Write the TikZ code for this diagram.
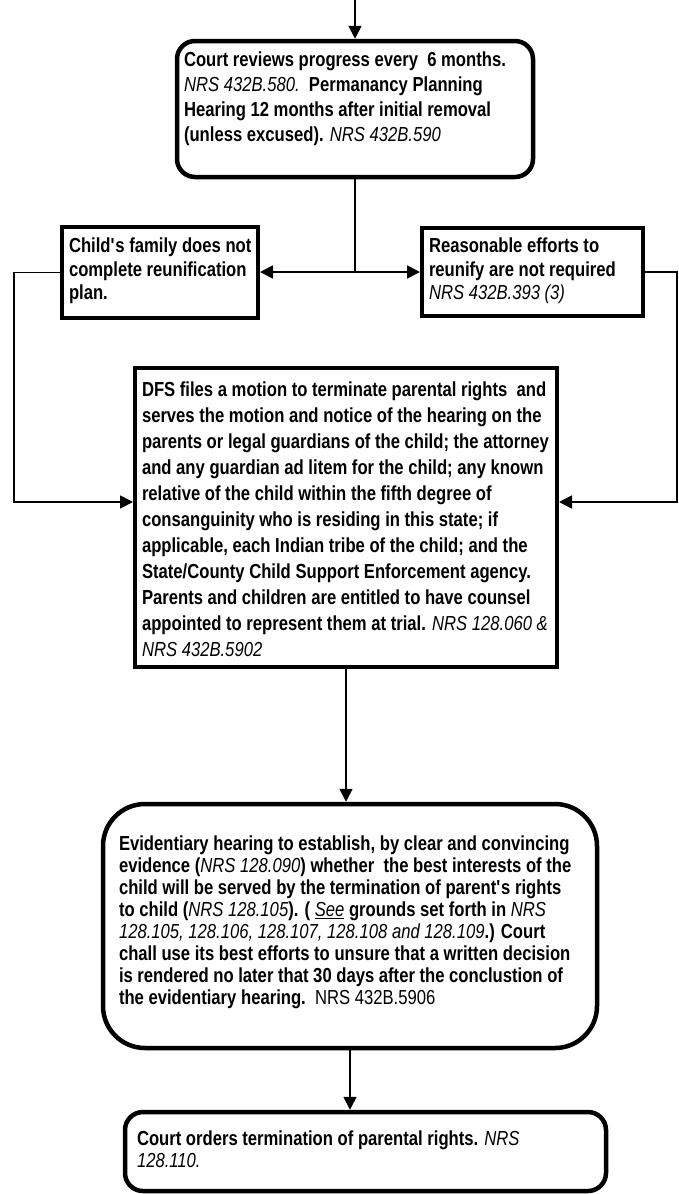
\documentclass[tikz,border=0pt]{standalone}
\usepackage{fontspec}
\setmainfont[FakeStretch=0.82]{Liberation Sans}
\usetikzlibrary{arrows.meta}

\newcommand{\boxtext}[3]{\parbox[c][#2][t]{#1}{\raggedright\rightskip=-24pt plus 1fil #3}}
\newcommand{\statute}[1]{{\mdseries\itshape #1}}
\newcommand{\apos}{\textquotesingle}

\begin{document}
\begin{tikzpicture}[
		x=1pt, y=-1pt,
		every node/.style={draw, line width=4pt, inner sep=0pt, font=\fontsize{20.3}{25}\selectfont\bfseries},
		roundbox/.style={rounded corners=18pt, line width=4.5pt},
		flow/.style={line width=1.6pt, -{Triangle[length=13pt, width=13pt]}},
		link/.style={line width=1.6pt}
	]
  \useasboundingbox (0, 0) rectangle (678, 1194);

  \coordinate (in) at (355, 0);
  \node (review) [roundbox, inner xsep=7pt, inner ysep=11pt] at (355, 109)
    {\boxtext{342pt}{114pt}{Court reviews progress every\ \ 6 months.\\
    \statute{NRS 432B.580.}\ \ Permanancy Planning\\
    Hearing 12 months after initial removal\\
    (unless excused). \statute{NRS 432B.590}}};

  \coordinate (split) at (355, 272);
  \node (family) [inner xsep=7pt, inner ysep=11pt] at (160, 272.5)
    {\boxtext{182pt}{69pt}{\fontsize{20.3}{23.5}\selectfont Child\apos s family does not\\
    complete reunification\\
    plan.}};
  \node (noeffort) [inner xsep=7pt, inner ysep=10pt] at (532.5, 272)
    {\boxtext{207pt}{68pt}{\fontsize{20.3}{23.5}\selectfont Reasonable efforts to\\
    reunify are not required\\
    \statute{NRS 432B.393 (3)}}};

  \node (motion) [inner xsep=7pt, inner ysep=14pt] at (346, 517.5)
    {\boxtext{408pt}{271pt}{\fontsize{20.3}{26}\selectfont DFS files a motion to terminate parental rights\ \ and\\
    serves the motion and notice of the hearing on the\\
    parents or legal guardians of the child; the attorney\\
    and any guardian ad litem for the child; any known\\
    relative of the child within the fifth degree of\\
    consanguinity who is residing in this state; if\\
    applicable, each Indian tribe of the child; and the\\
    State/County Child Support Enforcement agency.\\
    Parents and children are entitled to have counsel\\
    appointed to represent them at trial. \statute{NRS 128.060 \&}\\
    \statute{NRS 432B.5902}}};

  \node (hearing) [roundbox, rounded corners=42pt, inner xsep=16pt, inner ysep=32pt] at (350, 926)
    {\boxtext{462pt}{180pt}{\fontsize{20.3}{22}\selectfont Evidentiary hearing to establish, by clear and convincing\\
    evidence (\statute{NRS 128.090}) whether\ \ the best interests of the\\
    child will be served by the termination of parent\apos s rights\\
    to child (\statute{NRS 128.105}). ( \statute{\underline{See}} grounds set forth in \statute{NRS}\\
    \statute{128.105, 128.106, 128.107, 128.108 and 128.109}.) Court\\
    chall use its best efforts to unsure that a written decision\\
    is rendered no later that 30 days after the conclustion of\\
    the evidentiary hearing.\ \ {\mdseries NRS 432B.5906}}};

  \node (orders) [roundbox, inner xsep=12pt, inner ysep=19pt] at (365.5, 1151.5)
    {\boxtext{457pt}{41pt}{\fontsize{20.3}{22}\selectfont Court orders termination of parental rights. \statute{NRS}\\
    \statute{128.110.}}};

  \coordinate (leftrail) at (14, 502);
  \coordinate (rightrail) at (677, 502);

  \draw [flow] (in) -- (review.north);
  \draw [link] (review.south) -- (split);
  \draw [flow] (split) -- (split -| family.east);
  \draw [flow] (split) -- (noeffort.west);
  \draw [flow] (family.west) -| (leftrail) -- (leftrail -| motion.west);
  \draw [flow] (noeffort.east) -| (rightrail) -- (rightrail -| motion.east);
  \draw [flow] (motion.south) -- (motion.south |- hearing.north);
  \draw [flow] (hearing.south) -- (hearing.south |- orders.north);
\end{tikzpicture}
\end{document}
